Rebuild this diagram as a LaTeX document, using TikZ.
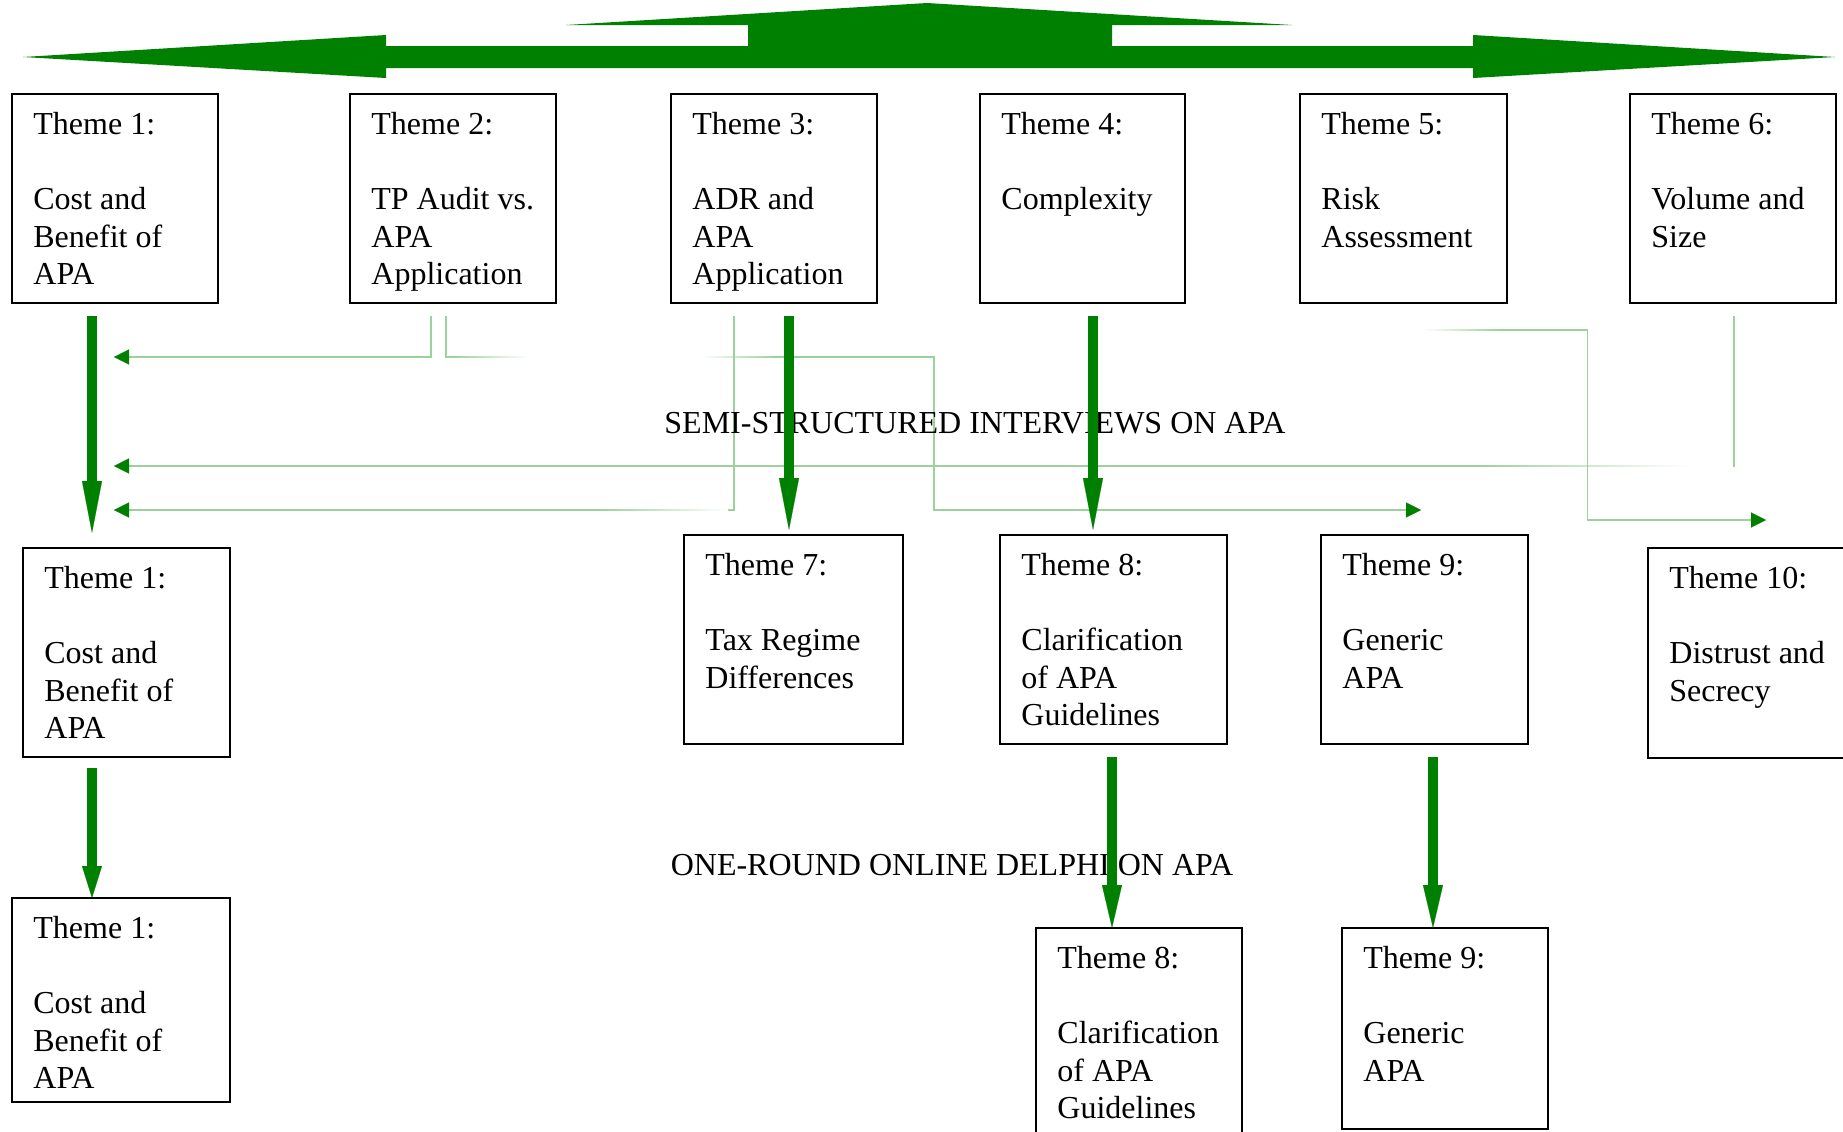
\documentclass[tikz,border=0pt]{standalone}
\usepackage{fontspec}
\setmainfont{Liberation Serif}
\usetikzlibrary{arrows.meta,calc}
\definecolor{tg}{HTML}{008000}
\definecolor{pale}{HTML}{9CD19C}
\newcommand{\fadeseg}[4]{% x1, x2, y, style
  \fill[white] (#1,#3-1.6) rectangle (#2,#3+1.6);
  \shade[#4] (#1,#3-0.6) rectangle (#2,#3+0.6);}
\begin{document}
\begin{tikzpicture}[x=0.5pt,y=-0.5pt,
  box/.style={draw=black, line width=1pt, inner sep=0pt, outer sep=0pt, anchor=north west},
  tt/.style={anchor=north west, inner sep=0pt, align=left, font=\fontsize{16pt}{18.75pt}\selectfont},
  lbl/.style={anchor=base, inner sep=0pt, font=\fontsize{16pt}{18.75pt}\selectfont},
  bigA/.style={draw=tg, line width=5pt, -{Triangle[width=10pt,length=26pt,line width=0.1pt]}},
  bigB/.style={draw=tg, line width=5pt, -{Triangle[width=10pt,length=16pt,line width=0.1pt]}},
  bigC/.style={draw=tg, line width=5pt, -{Triangle[width=10pt,length=21.5pt,line width=0.1pt]}},
  lightconn/.style={draw=pale, line width=0.6pt, -{Triangle[width=7.5pt,length=7.5pt,color=tg,line width=0.1pt]}},
  fadeout/.style={left color=pale, right color=white},
  fadein/.style={left color=white, right color=pale},
  blank/.style={left color=white, right color=white}]
\useasboundingbox (0,0) rectangle (1843,1131);
\fill[white] (0,0) rectangle (1843,1131);

% top banner arrow
\fill[tg] (23,57) -- (386,35) -- (386,46) -- (748,46) -- (748,25) -- (566,25) -- (927,3)
  -- (1292,25) -- (1112,25) -- (1112,46) -- (1473,46) -- (1473,35) -- (1835,57)
  -- (1473,78) -- (1473,68) -- (386,68) -- (386,78) -- cycle;

% row 1
\node[box, minimum width={(218-12)/2}, minimum height={(303-94)/2}] (t1) at (12,94) {};
\node[box, minimum width={(556-350)/2}, minimum height={(303-94)/2}] (t2) at (350,94) {};
\node[box, minimum width={(877-671)/2}, minimum height={(303-94)/2}] (t3) at (671,94) {};
\node[box, minimum width={(1185-980)/2}, minimum height={(303-94)/2}] (t4) at (980,94) {};
\node[box, minimum width={(1507-1300)/2}, minimum height={(303-94)/2}] (t5) at (1300,94) {};
\node[box, minimum width={(1836-1630)/2}, minimum height={(303-94)/2}] (t6) at (1630,94) {};
% row 2
\node[box, minimum width={(230-23)/2}, minimum height={(757-548)/2}] (t1b) at (23,548) {};
\node[box, minimum width={(903-684)/2}, minimum height={(744-535)/2}] (t7) at (684,535) {};
\node[box, minimum width={(1227-1000)/2}, minimum height={(744-535)/2}] (t8) at (1000,535) {};
\node[box, minimum width={(1528-1321)/2}, minimum height={(744-535)/2}] (t9) at (1321,535) {};
\node[box, minimum width={(1870-1648)/2}, minimum height={(758-548)/2}] (t10) at (1648,548) {};
% row 3
\node[box, minimum width={(230-12)/2}, minimum height={(1102-898)/2}] (t1c) at (12,898) {};
\node[box, minimum width={(1242-1036)/2}, minimum height={(1150-928)/2}] (t8b) at (1036,928) {};
\node[box, minimum width={(1548-1342)/2}, minimum height={(1129-928)/2}] (t9b) at (1342,928) {};

% texts
\node[tt] (t1x) at ($(t1.north west)+(21,18)$) {Theme 1:\\[18.75pt]Cost and\\Benefit of\\APA};
\node[tt] (t2x) at ($(t2.north west)+(21,18)$) {Theme 2:\\[18.75pt]TP Audit vs.\\APA\\Application};
\node[tt] (t3x) at ($(t3.north west)+(21,18)$) {Theme 3:\\[18.75pt]ADR and\\APA\\Application};
\node[tt] (t4x) at ($(t4.north west)+(21,18)$) {Theme 4:\\[18.75pt]Complexity};
\node[tt] (t5x) at ($(t5.north west)+(21,18)$) {Theme 5:\\[18.75pt]Risk\\Assessment};
\node[tt] (t6x) at ($(t6.north west)+(21,18)$) {Theme 6:\\[18.75pt]Volume and\\Size};
\node[tt] (t1bx) at ($(t1b.north west)+(21,18)$) {Theme 1:\\[18.75pt]Cost and\\Benefit of\\APA};
\node[tt] (t7x) at ($(t7.north west)+(21,18)$) {Theme 7:\\[18.75pt]Tax Regime\\Differences};
\node[tt] (t8x) at ($(t8.north west)+(21,18)$) {Theme 8:\\[18.75pt]Clarification\\of APA\\Guidelines};
\node[tt] (t9x) at ($(t9.north west)+(21,18)$) {Theme 9:\\[18.75pt]Generic\\APA};
\node[tt] (t10x) at ($(t10.north west)+(21,18)$) {Theme 10:\\[18.75pt]Distrust and\\Secrecy};
\node[tt] (t1cx) at ($(t1c.north west)+(21,18)$) {Theme 1:\\[18.75pt]Cost and\\Benefit of\\APA};
\node[tt] (t8bx) at ($(t8b.north west)+(21,18)$) {Theme 8:\\[18.75pt]Clarification\\of APA\\Guidelines};
\node[tt] (t9bx) at ($(t9b.north west)+(21,18)$) {Theme 9:\\[18.75pt]Generic\\APA};

% thin connectors (with faded stretches as in the reference)
\coordinate (e1) at (114,357);
\coordinate (e2) at (1421,510);
\coordinate (e3) at (114,510);
\coordinate (e4) at (114,466);
\coordinate (e5) at (1766,520);
\draw[lightconn] ($(t2.south)+(-22,13)$) |- (e1);
\draw[lightconn] ($(t2.south)+(-7,13)$) -- ++(0,41) -- ++(488,0) |- (e2);
\draw[lightconn] ($(t6.south)+(1,13)$) |- (e4);
\fadeseg{452}{530}{357}{fadeout}
\fadeseg{530}{700}{357}{blank}
\fadeseg{700}{775}{357}{fadein}
\fadeseg{1480}{1690}{466}{fadeout}
\fadeseg{1690}{1732.5}{466}{blank}
\draw[lightconn] ($(t3.south)+(-40,13)$) |- (e3);
\fadeseg{600}{728}{510}{fadeout}
\draw[lightconn] ($(t5.south)+(20,27)$) -- ++(164,0) |- (e5);
\fadeseg{1422}{1500}{330}{fadein}

% stage labels
\node[lbl] (semi) at (975,433) {SEMI-STRUCTURED INTERVIEWS ON APA};
\node[lbl] (delphi) at (952,875) {ONE-ROUND ONLINE DELPHI ON APA};

% thick arrows
\draw[bigA] ($(t1.south)+(-23,13)$) -- ($(t1b.north)+(-34.5,-15)$);
\draw[bigB] ($(t1b.south)+(-34.5,11)$) -- ($(t1c.north)+(-29,0)$);
\draw[bigA] ($(t3.south)+(15,13)$) -- ($(t7.north)+(-4.5,-5)$);
\draw[bigA] ($(t4.south)+(10.5,13)$) -- ($(t8.north)+(-20.5,-5)$);
\draw[bigC] ($(t8.south)+(-1.5,13)$) -- ($(t8b.north)+(-27,0)$);
\draw[bigC] ($(t9.south)+(8.5,13)$) -- ($(t9b.north)+(-12,0)$);
\end{tikzpicture}
\end{document}
